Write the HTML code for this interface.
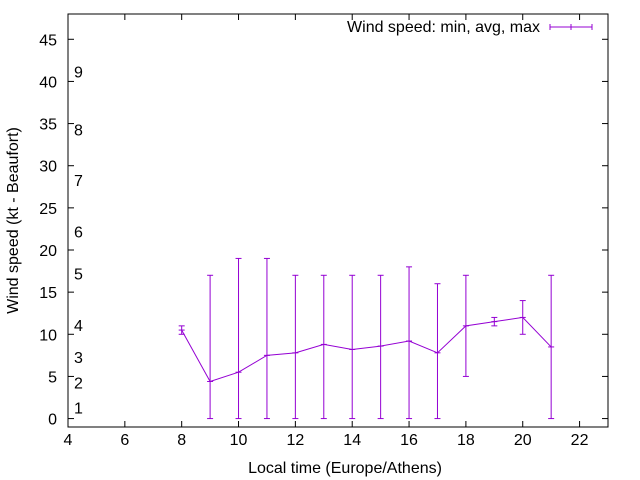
<!DOCTYPE html>
<html><head><meta charset="utf-8"><style>
body{margin:0;background:#fff}
svg{display:block;font-family:"Liberation Sans",sans-serif}
</style></head><body>
<svg id="chart" width="640" height="480" viewBox="0 0 640 480"></svg>
<script>
const hours=[8,9,10,11,12,13,14,15,16,17,18,19,20,21];
const avgSpeed=[10.5,4.4,5.5,7.5,7.8,8.8,8.2,8.6,9.2,7.8,11,11.5,12,8.5];
const minSpeed=[10,0,0,0,0,0,0,0,0,0,5,11,10,0];
const maxSpeed=[11,17,19,19,17,17,17,17,18,16,17,12,14,17];
const xTicks=[4,6,8,10,12,14,16,18,20,22];
const yTicks=[0,5,10,15,20,25,30,35,40,45];
const beaufortLabels=["1","2","3","4","5","6","7","8","9"];
const beaufortPos=[1.3,4.3,7.3,11.1,17.2,22.2,28.3,34.3,41.2];

const L=68,R=608,T=14,B=427,xMin=4,xMax=23,yMin=-1,yMax=48;
const X=v=>L+(v-xMin)/(xMax-xMin)*(R-L);
const Y=v=>B-(v-yMin)/(yMax-yMin)*(B-T);
const svg=document.getElementById('chart');
const NS='http://www.w3.org/2000/svg';
function mk(tag,attrs,parent){const e=document.createElementNS(NS,tag);for(const k in attrs)e.setAttribute(k,attrs[k]);(parent||svg).appendChild(e);return e;}
const C='#9400d3';
const FS=16;

const border=mk('rect',{x:L,y:T,width:R-L,height:B-T,fill:'none',stroke:'#000','stroke-width':1});



xTicks.forEach(v=>{
  const x=X(v);
  mk('line',{x1:x,y1:B,x2:x,y2:B-6,stroke:'#000'});
  mk('line',{x1:x,y1:T,x2:x,y2:T+6,stroke:'#000'});
  const t=mk('text',{x:x,y:B+18,'text-anchor':'middle','font-size':FS});
  t.textContent=v;
  
  
});
yTicks.forEach(v=>{
  const y=Y(v);
  mk('line',{x1:L,y1:y,x2:L+6,y2:y,stroke:'#000'});
  mk('line',{x1:R,y1:y,x2:R-6,y2:y,stroke:'#000'});
  const t=mk('text',{x:L-11,y:y+6,'text-anchor':'end','font-size':FS});
  t.textContent=v;
  
  
});
beaufortLabels.forEach((s,i)=>{
  const t=mk('text',{x:74,y:Y(beaufortPos[i])+6,'font-size':FS});
  t.textContent=s;
  
  
});

const xt=mk('text',{x:345,y:473,'text-anchor':'middle','font-size':FS});
xt.textContent='Local time (Europe/Athens)';


const yt=mk('text',{x:18,y:(T+B)/2,'text-anchor':'middle','font-size':FS,transform:`rotate(-90 18 ${(T+B)/2})`});
yt.textContent='Wind speed (kt - Beaufort)';



const line=mk('polyline',{points:hours.map((h,i)=>X(h)+','+Y(avgSpeed[i])).join(' '),fill:'none',stroke:C,'stroke-width':1});


hours.forEach((h,i)=>{
  const g=mk('g',{stroke:C,'stroke-width':1});
  
  
  const x=X(h);
  mk('line',{x1:x,y1:Y(minSpeed[i]),x2:x,y2:Y(maxSpeed[i])},g);
  mk('line',{x1:x-3,y1:Y(minSpeed[i]),x2:x+3,y2:Y(minSpeed[i])},g);
  mk('line',{x1:x-3,y1:Y(maxSpeed[i]),x2:x+3,y2:Y(maxSpeed[i])},g);
  mk('line',{x1:x-3,y1:Y(avgSpeed[i]),x2:x+3,y2:Y(avgSpeed[i])},g);
});

const lg=mk('g',{});


const lt=mk('text',{x:540,y:32,'text-anchor':'end','font-size':FS},lg);
lt.textContent='Wind speed: min, avg, max';
mk('line',{x1:550,y1:27,x2:592,y2:27,stroke:C},lg);
mk('line',{x1:550,y1:24,x2:550,y2:30,stroke:C},lg);
mk('line',{x1:592,y1:24,x2:592,y2:30,stroke:C},lg);
mk('line',{x1:571,y1:24,x2:571,y2:30,stroke:C},lg);
</script>
</body></html>
